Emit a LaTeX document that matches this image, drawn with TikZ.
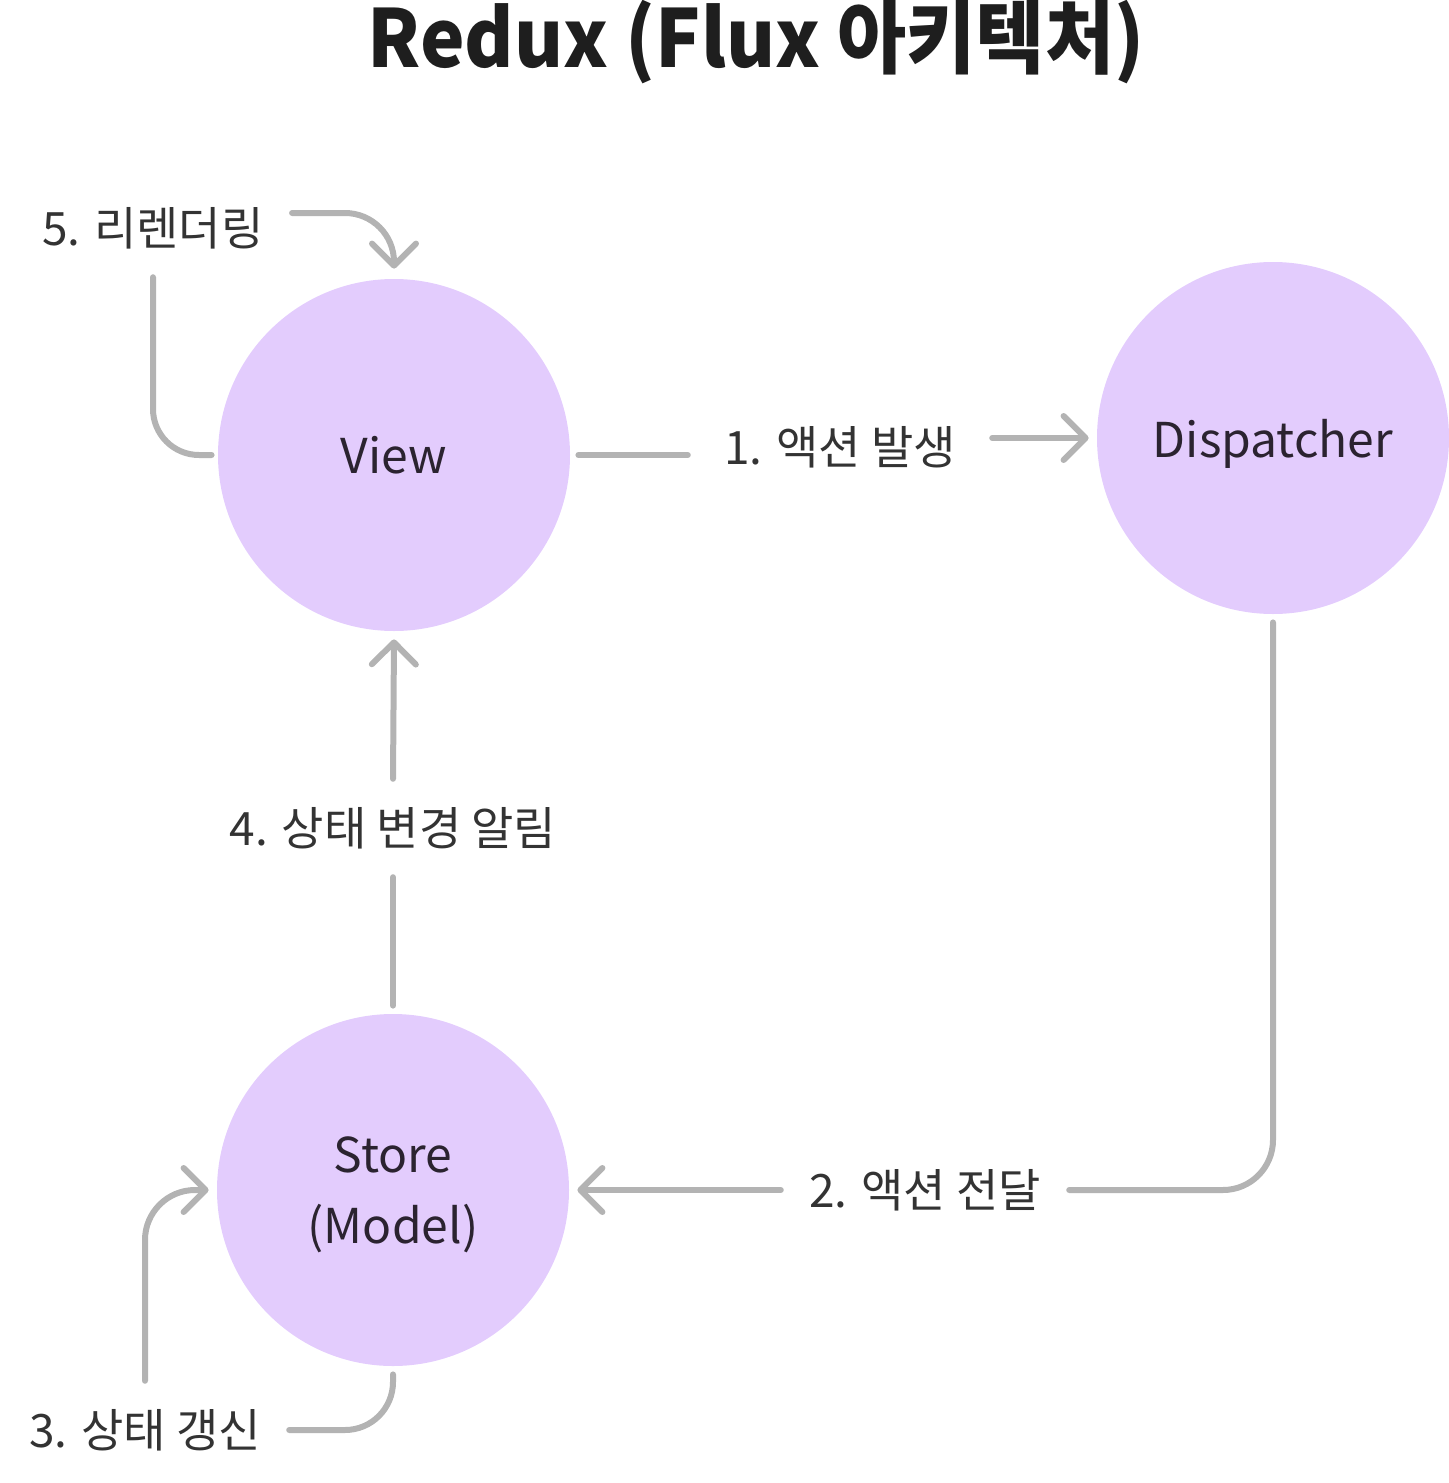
\documentclass[tikz,border=0pt]{standalone}
\usepackage{fontspec}
\setmainfont{Noto Sans CJK KR}
\usetikzlibrary{arrows.meta}
\definecolor{nodefill}{HTML}{E3CCFD}
\definecolor{linegray}{HTML}{B3B3B3}
\definecolor{lbltext}{HTML}{333333}
\definecolor{nodetext}{HTML}{2B2330}
\definecolor{titletext}{HTML}{1E1E1E}
\tikzset{
  bubble/.style={circle, fill=nodefill, draw=none, minimum size=176pt, inner sep=0pt,
    text=nodetext, font=\fontsize{24}{35.5}\selectfont, align=center},
  lbl/.style={text=lbltext, font=\fontsize{23}{27}\selectfont, inner xsep=14pt, inner ysep=14pt},
  conn/.style={draw=linegray, line width=3pt, line cap=round, line join=round},
  arr/.style={-{Straight Barb[length=11pt, width=22pt, round]}},
}
\newcommand{\nodepth}[1]{\raisebox{0pt}[\height][0pt]{#1}}
\begin{document}
\begin{tikzpicture}[x=0.5pt, y=-0.5pt]
\useasboundingbox (0,0) rectangle (1449,1483);
% title
\node[text=titletext, font=\fontsize{40}{48}\selectfont\bfseries] (title) at (756,42) {\scalebox{0.94}[1]{Redux (Flux 아키텍처)}};
% nodes
\node[bubble] (view) at (394,455) {View};
\node[bubble] (disp) at (1273,438) {\nodepth{Dispatcher}};
\node[bubble] (store) at (393,1190) {Store\\\nodepth{(Model)}};
% labels
\node[lbl, inner xsep=18pt] (l1) at (840,447) {1. 액션 발생};
\node[lbl] (l2) at (925,1190) {2. 액션 전달};
\node[lbl] (l3) at (145,1430) {3. 상태 갱신};
\node[lbl] (l4) at (393,828) {4. 상태 변경 알림};
\node[lbl] (l5) at (153,228) {5. 리렌더링};
\coordinate (v5) at ([yshift=5pt]view.north);
\coordinate (s5) at ([yshift=7.5pt]l5.east);
\coordinate (t5) at (v5 |- s5);
% connectors
\draw[conn] ([xshift=4pt]view.east) -- (l1.west |- view.east);
\draw[conn, arr] (l1.east |- disp.west) -- ([xshift=-4pt]disp.west);
\draw[conn, rounded corners=25pt] ([yshift=-4pt]disp.south) |- (l2.east);
\draw[conn, arr] (l2.west) -- ([xshift=4pt]store.east);
\draw[conn, rounded corners=24pt] ([yshift=-4pt]store.south) |- (l3.east);
\draw[conn, arr, rounded corners=25pt] (l3.north) |- ([xshift=-4pt]store.west);
\draw[conn] ([yshift=4pt]store.north) -- (l4.south);
\draw[conn, arr] (l4.north) -- ([yshift=-4pt]view.south);
\draw[conn, rounded corners=23pt] ([xshift=-3pt]view.west) -| (l5.south);
\draw[conn, arr] (s5) -- ([xshift=-24.5pt]t5) arc[start angle=90, end angle=0, radius=24.5pt] -- (v5);
\end{tikzpicture}
\end{document}
